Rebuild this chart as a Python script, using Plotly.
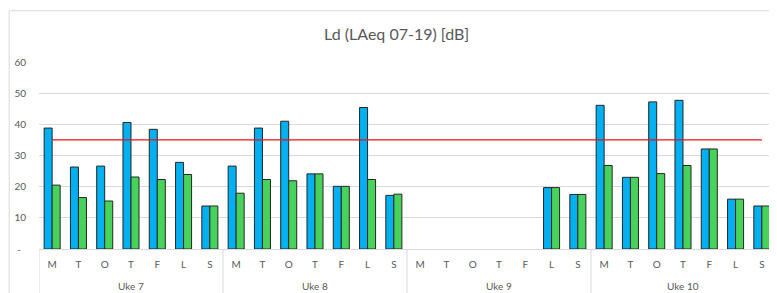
import plotly.graph_objects as go

weeks = ["Uke 7", "Uke 8", "Uke 9", "Uke 10"]
days = ["M", "T", "O", "T", "F", "L", "S"]

blue_vals = [38.8, 26.3, 26.6, 40.6, 38.4, 27.8, 13.8,
             26.6, 38.8, 41.0, 24.1, 20.1, 45.4, 17.2,
             None, None, None, None, None, 19.7, 17.5,
             46.1, 23.0, 47.2, 47.7, 32.1, 16.0, 13.8]
green_vals = [20.5, 16.5, 15.4, 23.1, 22.3, 23.9, 13.8,
              17.9, 22.3, 21.9, 24.1, 20.1, 22.3, 17.6,
              None, None, None, None, None, 19.7, 17.5,
              26.8, 23.0, 24.2, 26.8, 32.1, 16.0, 13.8]
limit_value = 35
y_ticks = [0, 10, 20, 30, 40, 50, 60]
y_ticktext = ["-\u00a0\u00a0", "10", "20", "30", "40", "50", "60"]

n = len(weeks) * len(days)
x = list(range(n))
tick_labels = [days[i % len(days)] for i in x]

FONT = "Lato"
GREY = "#595959"
GRID = "#d9d9d9"

fig = go.Figure()
fig.add_trace(go.Bar(x=x, y=blue_vals, marker=dict(color="#00b0f0", line=dict(color="#262626", width=1)),
                     name="Blå"))
fig.add_trace(go.Bar(x=x, y=green_vals, marker=dict(color="#47d35b", line=dict(color="#262626", width=1)),
                     name="Grønn"))
fig.add_trace(go.Scatter(x=x, y=[limit_value] * n, mode="lines",
                         line=dict(color="#e8141a", width=1.2), name="Grense"))

shapes = []
for i in range(len(weeks) + 1):
    xv = i * len(days) - 0.5
    shapes.append(dict(type="line", xref="x", yref="paper", x0=xv, x1=xv, y0=0, y1=-0.4,
                       line=dict(color=GRID, width=1)))
shapes.append(dict(type="rect", xref="paper", yref="paper", x0=-0.0405, x1=1.2, y0=-0.6, y1=1.274,
                   line=dict(color=GRID, width=1), layer="below"))

annotations = []
for i, w in enumerate(weeks):
    annotations.append(dict(text=w, x=i * len(days) + (len(days) - 1) / 2, xref="x",
                            y=-0.196, yref="paper", yanchor="middle", showarrow=False,
                            font=dict(family=FONT, size=10, color=GREY)))
annotations.append(dict(text="Ld (LAeq 07-19) [dB]", x=0.486, xref="paper", y=1.15, yref="paper",
                        yanchor="middle", showarrow=False,
                        font=dict(family=FONT, size=16, color=GREY)))

# the page body adds an 8px offset, so the figure is sized to fill the rest of the window
fig.update_layout(
    width=769, height=285,
    margin=dict(l=31, r=2, t=54, b=44),
    paper_bgcolor="white", plot_bgcolor="white",
    barmode="group", bargap=0.39, bargroupgap=0,
    showlegend=False,
    shapes=shapes, annotations=annotations,
    font=dict(family=FONT, color=GREY),
)
fig.update_xaxes(range=[-0.5, n - 0.5], tickmode="array", tickvals=x, ticktext=tick_labels,
                 showgrid=False, showline=True, linecolor=GRID, linewidth=1,
                 ticks="outside", ticklen=6, tickcolor="rgba(0,0,0,0)",
                 tickfont=dict(family=FONT, size=10, color=GREY), zeroline=False)
fig.update_yaxes(range=[0, 60], tickmode="array", tickvals=y_ticks, ticktext=y_ticktext,
                 showgrid=True, gridcolor=GRID, gridwidth=1, zeroline=False, showline=False,
                 ticks="outside", ticklen=10, tickcolor="rgba(0,0,0,0)",
                 tickfont=dict(family=FONT, size=10, color=GREY))

fig.write_html("out.html")
